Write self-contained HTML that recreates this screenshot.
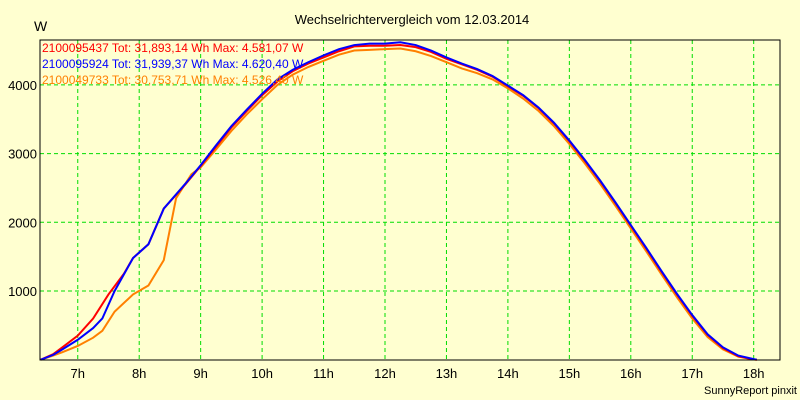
<!DOCTYPE html>
<html><head><meta charset="utf-8"><style>
body{margin:0;background:#ffffd0;}
svg{display:block;font-family:"Liberation Sans",sans-serif;}
</style></head><body>
<svg width="800" height="400">
<rect width="800" height="400" fill="#ffffd0"/>
<text x="412" y="24" font-size="13" text-anchor="middle">Wechselrichtervergleich vom 12.03.2014</text>
<text x="34" y="31" font-size="14">W</text>
<g id="grid"></g>
<g id="series"></g>
<rect x="40" y="40" width="740" height="320" fill="none" stroke="#000" stroke-width="1"/>
<g id="labels"></g>
<g font-size="12">
<text x="42" y="52" fill="#ff0000">2100095437 Tot: 31,893,14 Wh Max: 4.581,07 W</text>
<text x="42" y="68" fill="#0000ff">2100095924 Tot: 31,939,37 Wh Max: 4.620,40 W</text>
<text x="42" y="84" fill="#ff8000">2100049733 Tot: 30,753,71 Wh Max: 4.526,40 W</text>
</g>
<text x="797" y="394" font-size="11" text-anchor="end">SunnyReport pinxit</text>
</svg>
<script>
const xTicks=[7,8,9,10,11,12,13,14,15,16,17,18];
const yTicks=[1000,2000,3000,4000];
const redT=[6.4,6.6,6.75,7,7.25,7.5,7.75,7.9,8.15,8.4,8.75,9,9.25,9.5,9.75,10,10.25,10.5,10.75,11,11.25,11.5,11.75,12,12.25,12.5,12.75,13,13.25,13.5,13.75,14,14.25,14.5,14.75,15,15.25,15.5,15.75,16,16.25,16.5,16.75,17,17.25,17.5,17.75,18,18.05];
const redV=[0,80,180,350,600,950,1250,1480,1680,2200,2550,2820,3100,3380,3620,3850,4050,4200,4310,4400,4490,4560,4570,4570,4580,4550,4480,4380,4300,4220,4120,3980,3840,3660,3440,3180,2900,2600,2280,1950,1620,1280,950,640,360,170,50,5,0];
const blueT=[6.4,6.6,6.75,7,7.25,7.4,7.6,7.9,8.15,8.4,8.75,9,9.25,9.5,9.75,10,10.25,10.5,10.75,11,11.25,11.5,11.75,12,12.25,12.5,12.75,13,13.25,13.5,13.75,14,14.25,14.5,14.75,15,15.25,15.5,15.75,16,16.25,16.5,16.75,17,17.25,17.5,17.75,18,18.05];
const blueV=[0,70,150,290,460,600,1000,1480,1680,2200,2560,2830,3120,3400,3640,3870,4080,4220,4330,4430,4520,4580,4600,4600,4620,4580,4500,4400,4310,4230,4130,3990,3850,3670,3450,3190,2910,2610,2290,1960,1630,1290,960,650,370,180,60,8,0];
const orangeT=[6.4,6.6,6.75,7,7.25,7.4,7.6,7.9,8.15,8.4,8.6,8.85,9,9.25,9.5,9.75,10,10.25,10.5,10.75,11,11.25,11.5,11.75,12,12.25,12.5,12.75,13,13.25,13.5,13.75,14,14.25,14.5,14.75,15,15.25,15.5,15.75,16,16.25,16.5,16.75,17,17.25,17.5,17.75,18,18.05];
const orangeV=[0,60,110,200,320,420,700,950,1080,1450,2350,2700,2800,3060,3330,3570,3790,4000,4150,4260,4350,4440,4500,4510,4520,4530,4490,4420,4330,4240,4170,4080,3950,3800,3620,3400,3140,2860,2560,2240,1910,1580,1240,910,600,330,150,45,3,0];
const X=h=>16.3+(h-6)*61.45, Y=v=>359.7-v*0.0687;
const NS="http://www.w3.org/2000/svg";
const grid=document.getElementById('grid'),labels=document.getElementById('labels'),series=document.getElementById('series');
function mk(tag,attrs,parent){const e=document.createElementNS(NS,tag);for(const k in attrs)e.setAttribute(k,attrs[k]);parent.appendChild(e);return e;}
xTicks.forEach(h=>{
 const l=mk('line',{x1:X(h),x2:X(h),y1:40,y2:360,stroke:'#00dd00','stroke-dasharray':'4,3'},grid);
 
 
 const t=mk('text',{x:X(h),y:378,'font-size':13,'text-anchor':'middle'},labels);t.textContent=h+'h';
 
 
});
yTicks.forEach(v=>{
 const l=mk('line',{x1:40,x2:780,y1:Y(v),y2:Y(v),stroke:'#00dd00','stroke-dasharray':'4,3'},grid);
 
 
 const t=mk('text',{x:37,y:Y(v)+5,'font-size':13,'text-anchor':'end'},labels);t.textContent=v;
 
 
});
function draw(T,V,c,name){
 const p=mk('polyline',{points:T.map((t,i)=>X(t)+','+Y(V[i])).join(' '),fill:'none',stroke:c,'stroke-width':2},series);
 
 
}
draw(orangeT,orangeV,'#ff8000','series-2100049733');
draw(redT,redV,'#ff0000','series-2100095437');
draw(blueT,blueV,'#0000ff','series-2100095924');
</script>
</body></html>
